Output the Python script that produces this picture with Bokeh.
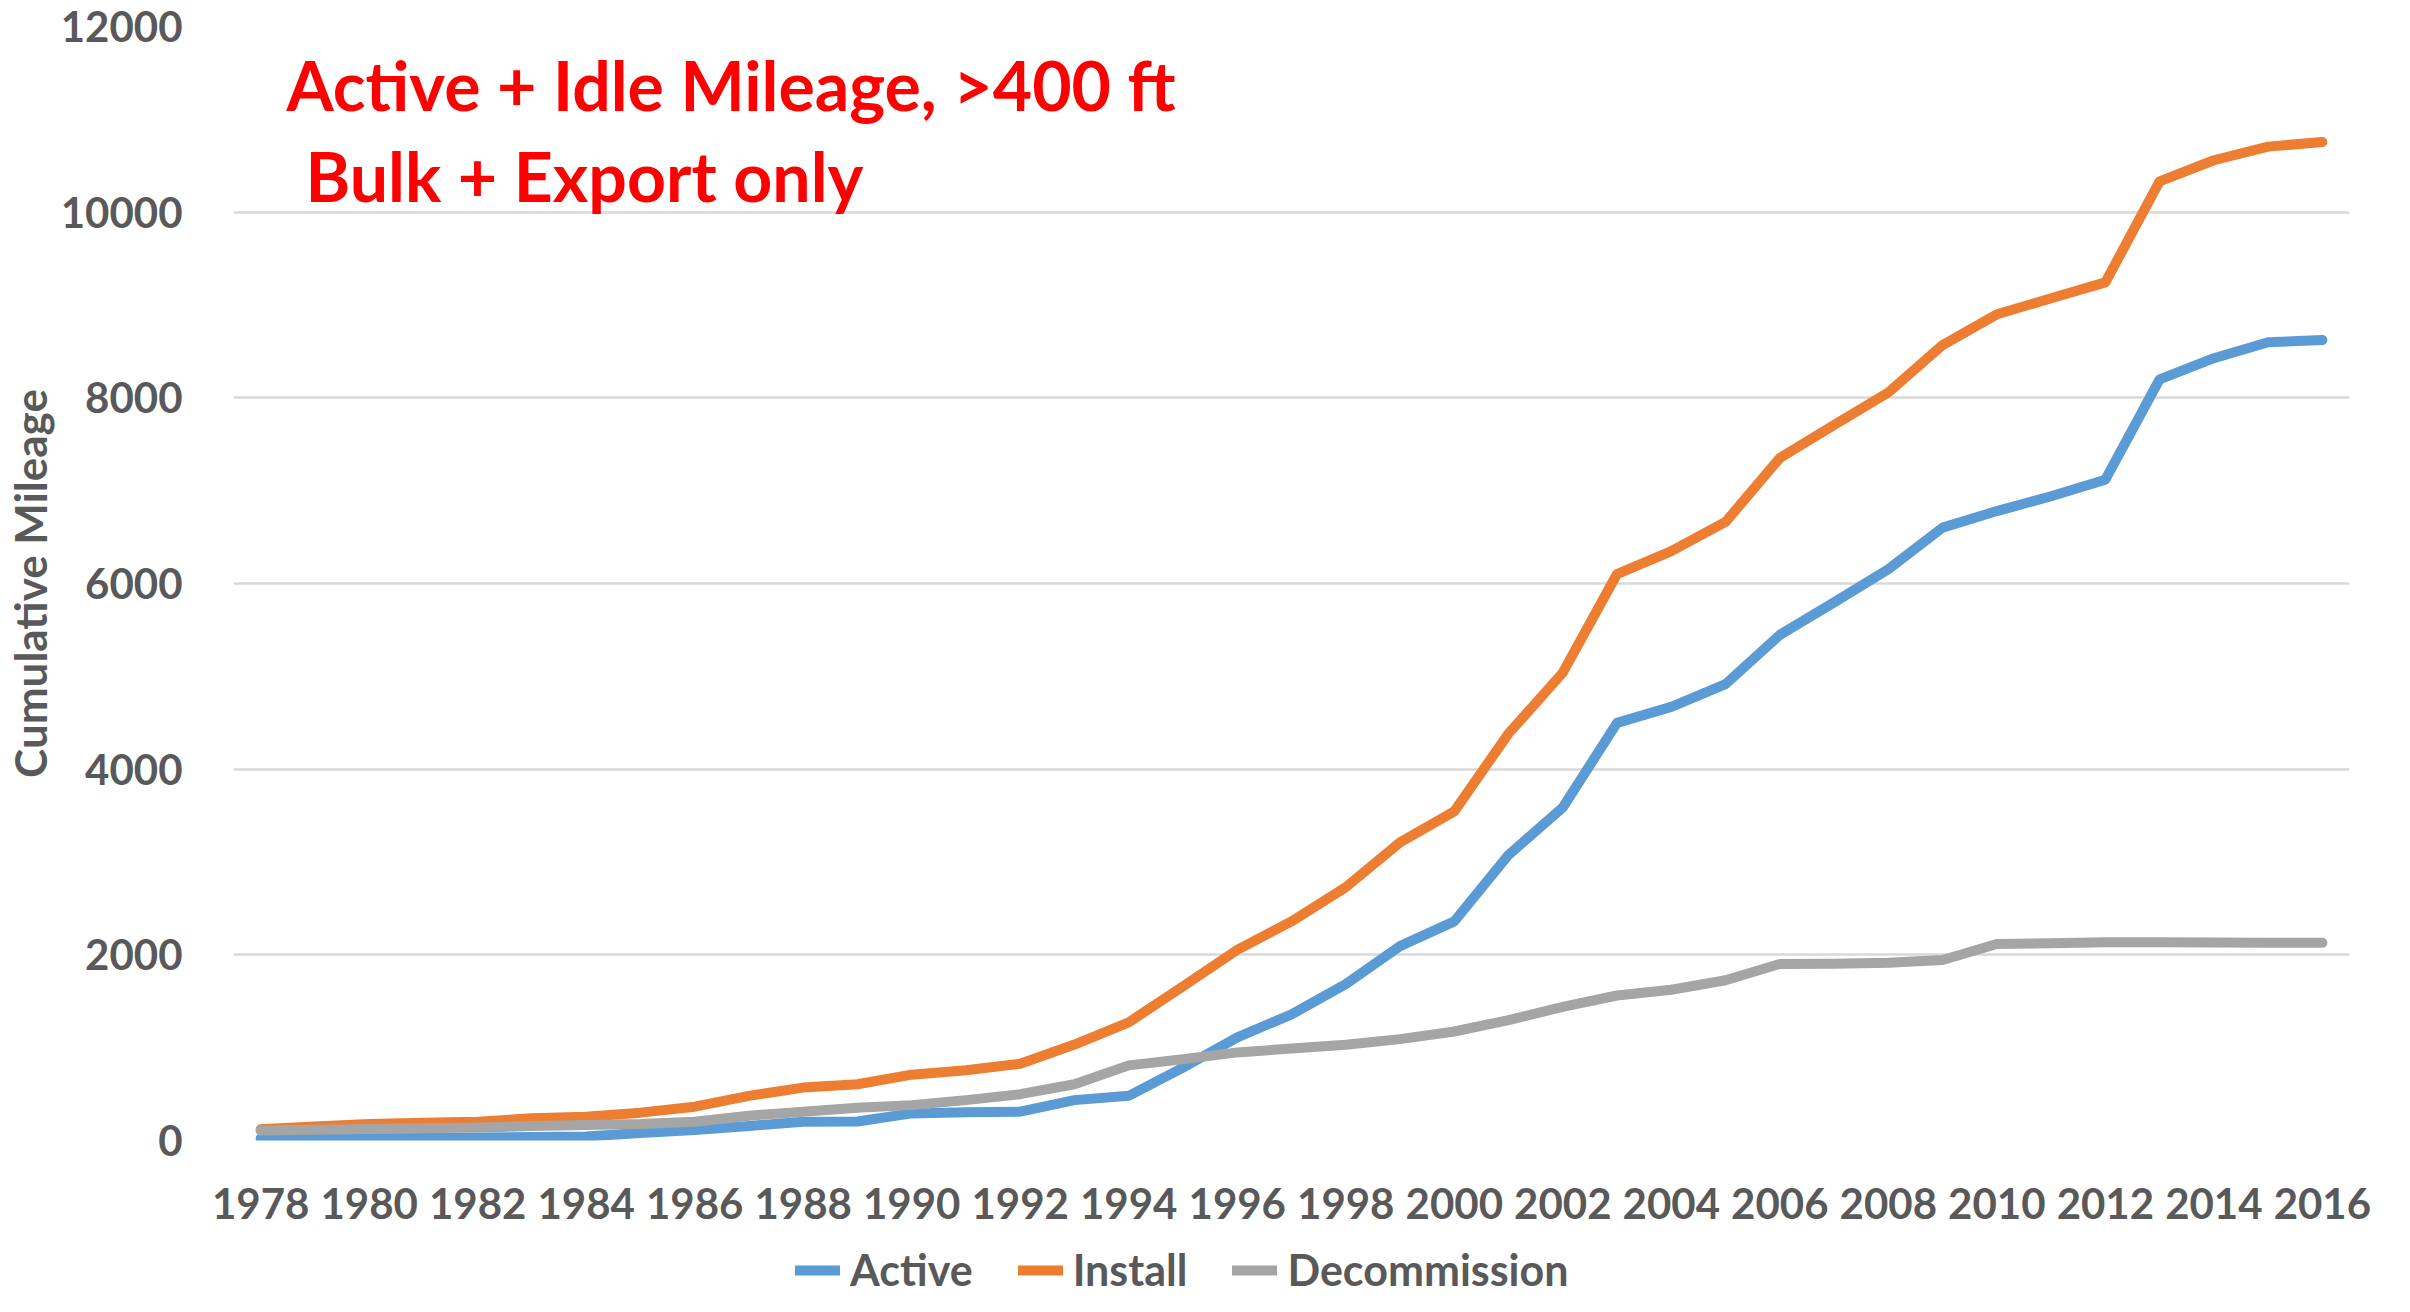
from bokeh.plotting import figure
from bokeh.models import Range1d, FixedTicker, Legend, LegendItem, Label
from bokeh.layouts import column
from bokeh.embed import file_html
from bokeh.resources import INLINE

years = list(range(1978, 2017))
active = [20, 22, 25, 28, 32, 39, 43, 80, 114, 157, 203, 205, 292, 303, 310, 435, 481,
          785, 1112, 1358, 1685, 2094, 2360, 3076, 3587, 4499, 4671, 4916, 5447, 5797,
          6153, 6602, 6780, 6940, 7118, 8199, 8427, 8599, 8623]
install = [120, 150, 178, 190, 203, 239, 257, 300, 364, 481, 570, 606, 709, 756, 827, 1034,
           1273, 1660, 2053, 2360, 2728, 3211, 3546, 4384, 5039, 6102, 6348, 6663, 7351,
           7708, 8058, 8568, 8900, 9072, 9244, 10331, 10559, 10706, 10755]
decommission = [107, 115, 125, 132, 139, 155, 168, 178, 203, 267, 310, 353, 381, 435, 499,
                606, 809, 875, 949, 990, 1031, 1092, 1174, 1297, 1440, 1562, 1624, 1726,
                1902, 1905, 1914, 1945, 2117, 2125, 2135, 2135, 2132, 2130, 2129]
series_names = ["Active", "Install", "Decommission"]
series_colors = ["#5B9BD5", "#ED7D31", "#A5A5A5"]
title_lines = ["Active + Idle Mileage, >400 ft", "Bulk + Export only"]
y_label = "Cumulative Mileage"
x_ticks = list(range(1978, 2017, 2))
y_ticks = list(range(0, 12001, 2000))

FONT = "Lato"
TXT = "#595959"
LW = 10

# ---- main chart ----
p = figure(width=2394, height=1244, output_backend="svg", toolbar_location=None,
           x_range=Range1d(1977.5, 2016.5), y_range=Range1d(0, 12000),
           min_border_left=226, min_border_right=45, min_border_top=26,
           min_border_bottom=104)
p.outline_line_color = None
p.background_fill_color = "white"
p.border_fill_color = "white"

p.xgrid.grid_line_color = None
p.ygrid.grid_line_color = "#D9D9D9"
p.ygrid.grid_line_width = 2.5

p.xaxis.ticker = FixedTicker(ticks=x_ticks)
p.yaxis.ticker = FixedTicker(ticks=y_ticks)
for ax in (p.xaxis[0], p.yaxis[0]):
    ax.axis_line_color = None
    ax.major_tick_line_color = None
    ax.minor_tick_line_color = None
    ax.major_label_text_font = FONT
    ax.major_label_text_font_style = "bold"
    ax.major_label_text_font_size = "42px"
    ax.major_label_text_color = TXT
    ax.major_label_text_line_height = 1.0
p.xaxis.major_label_standoff = 41
p.yaxis.major_label_standoff = 45
p.yaxis.axis_label = y_label
p.yaxis.axis_label_text_font = FONT
p.yaxis.axis_label_text_font_style = "bold"
p.yaxis.axis_label_text_font_size = "44px"
p.yaxis.axis_label_text_color = TXT
p.yaxis.axis_label_standoff = 2

renderers = []
for name, vals, col in zip(series_names, [active, install, decommission], series_colors):
    r = p.line(years, vals, line_color=col, line_width=LW,
               line_cap="round", line_join="round")
    renderers.append(r)

title_pos = [(53, 1056), (72, 965)]
for txt, (lx, ly) in zip(title_lines, title_pos):
    p.add_layout(Label(x=lx, y=ly, x_units="screen", y_units="screen", text=txt,
                       text_font=FONT, text_font_style="bold", text_font_size="68px",
                       text_color="#FF0000", text_baseline="alphabetic"))

# ---- legend strip (keys carry no data points) ----
nan = float("nan")
lg = figure(width=2394, height=52, output_backend="svg", toolbar_location=None,
            x_range=Range1d(0, 1), y_range=Range1d(0, 1),
            x_axis_location=None, y_axis_location=None,
            min_border_left=226, min_border_right=45, min_border_top=0, min_border_bottom=0)
lg.outline_line_color = None
lg.xgrid.grid_line_color = None
lg.ygrid.grid_line_color = None
lg.background_fill_color = "white"
lg.border_fill_color = "white"
keys = [lg.line([nan], [nan], line_color=c, line_width=LW, line_cap="round")
        for c in series_colors]
legend = Legend(items=[LegendItem(label=n, renderers=[r]) for n, r in zip(series_names, keys)],
                orientation="horizontal", location=(562, 1))
legend.label_text_font = FONT
legend.label_text_font_style = "bold"
legend.label_text_font_size = "43px"
legend.label_text_line_height = 1.0
legend.label_text_color = TXT
legend.glyph_width = 45
legend.glyph_height = 40
legend.label_height = 40
legend.label_standoff = 10
legend.spacing = 45
legend.padding = 0
legend.margin = 0
legend.border_line_color = None
legend.background_fill_alpha = 0
lg.add_layout(legend)

page = column(p, lg, spacing=0)
open("out.html", "w").write(file_html(page, INLINE))
